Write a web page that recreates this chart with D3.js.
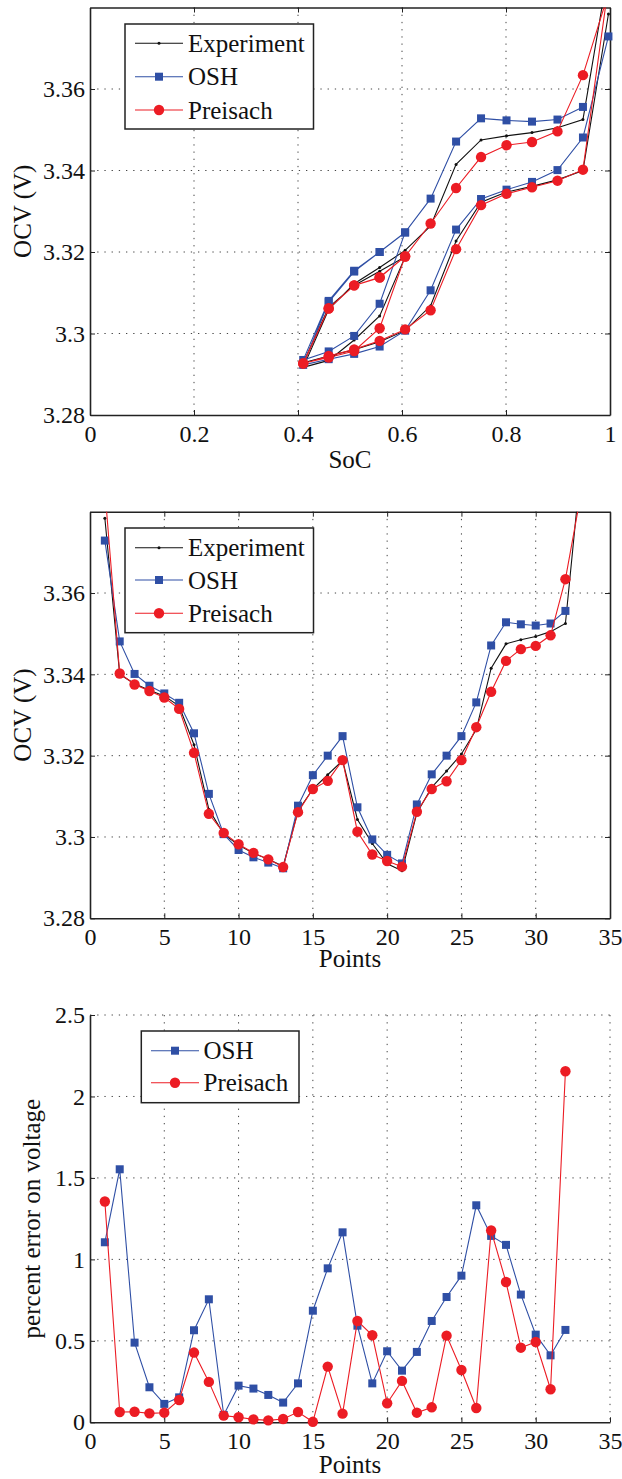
<!DOCTYPE html>
<html>
<head>
<meta charset="utf-8">
<script src="https://cdn.jsdelivr.net/npm/d3@7"></script>
<style>
    body { margin: 0; background: #fff; }
</style>
</head>
<body>
<div id="chart"></div>
<script>
// measurement points (order of the test)
var pointIndex = [1, 2, 3, 4, 5, 6, 7, 8, 9, 10, 11, 12, 13, 14, 15, 16, 17, 18, 19, 20,
    21, 22, 23, 24, 25, 26, 27, 28, 29, 30, 31, 32, 33];
var socValues = [0.997, 0.948, 0.899, 0.850, 0.801, 0.752, 0.704, 0.655, 0.606, 0.557, 0.508,
    0.459, 0.410, 0.459, 0.508, 0.557, 0.606, 0.557, 0.508, 0.459, 0.410, 0.459, 0.508, 0.557,
    0.606, 0.655, 0.704, 0.752, 0.801, 0.850, 0.899, 0.948, 0.997];
var experimentOCV = [3.3784, 3.3400, 3.3377, 3.3361, 3.3347, 3.3322, 3.3227, 3.3068, 3.3007,
    3.2980, 3.2960, 3.2945, 3.2928, 3.3064, 3.3118, 3.3153, 3.3188, 3.3043, 3.2984, 3.2934,
    3.2917, 3.3059, 3.3122, 3.3162, 3.3204, 3.3264, 3.3415, 3.3475, 3.3485, 3.3493, 3.3505,
    3.3525, 3.3895];
var oshOCV = [3.3729, 3.3481, 3.3401, 3.3372, 3.3353, 3.3330, 3.3255, 3.3106, 3.3007, 3.2968,
    3.2950, 3.2937, 3.2923, 3.3077, 3.3152, 3.3200, 3.3248, 3.3073, 3.2994, 3.2956, 3.2935,
    3.3080, 3.3154, 3.3200, 3.3248, 3.3331, 3.3471, 3.3528, 3.3523, 3.3520, 3.3525, 3.3556];
var preisachOCV = [3.3854, 3.3402, 3.3375, 3.3359, 3.3343, 3.3315, 3.3207, 3.3057, 3.3010,
    3.2982, 3.2961, 3.2945, 3.2926, 3.3061, 3.3118, 3.3138, 3.3189, 3.3013, 3.2957, 3.2941,
    3.2927, 3.3062, 3.3118, 3.3137, 3.3189, 3.3270, 3.3357, 3.3433, 3.3462, 3.3470, 3.3496,
    3.3634, 3.3835];
var oshError = [1.105, 1.553, 0.489, 0.215, 0.113, 0.153, 0.565, 0.755, 0.045, 0.225, 0.207,
    0.168, 0.121, 0.239, 0.685, 0.945, 1.166, 0.593, 0.239, 0.436, 0.317, 0.432, 0.622, 0.769,
    0.900, 1.332, 1.144, 1.089, 0.784, 0.538, 0.411, 0.567];
var preisachError = [1.355, 0.063, 0.065, 0.055, 0.059, 0.137, 0.428, 0.248, 0.041, 0.031, 0.018,
    0.012, 0.020, 0.063, 0.003, 0.342, 0.053, 0.622, 0.534, 0.117, 0.254, 0.059, 0.092, 0.532,
    0.321, 0.088, 1.177, 0.861, 0.458, 0.493, 0.203, 2.155];

// tick values and labels
var socTicks = [0, 0.2, 0.4, 0.6, 0.8, 1];
var socTickLabels = ["0", "0.2", "0.4", "0.6", "0.8", "1"];
var pointTicks = [0, 5, 10, 15, 20, 25, 30, 35];
var pointTickLabels = ["0", "5", "10", "15", "20", "25", "30", "35"];
var ocvTicks = [3.28, 3.3, 3.32, 3.34, 3.36];
var ocvTickLabels = ["3.28", "3.3", "3.32", "3.34", "3.36"];
var errorTicks = [0, 0.5, 1, 1.5, 2, 2.5];
var errorTickLabels = ["0", "0.5", "1", "1.5", "2", "2.5"];

var BLUE = "#2f4fa5", RED = "#ec1c24", BLACK = "#111";
var FONT = "'Liberation Serif', 'DejaVu Serif', serif";

var svg = d3.select("#chart").append("svg")
    .attr("width", 622)
    .attr("height", 1479);

function drawMarker(g, type, color, cx, cy) {
    if (type === "square") {
        g.append("rect")
            .attr("x", cx - 4).attr("y", cy - 4)
            .attr("width", 8).attr("height", 8)
            .attr("fill", color);
    } else if (type === "circle") {
        g.append("circle").attr("cx", cx).attr("cy", cy).attr("r", 5.2).attr("fill", color);
    } else {
        g.append("circle").attr("cx", cx).attr("cy", cy).attr("r", 1.5).attr("fill", color);
    }
}

function drawPanel(cfg, id) {
    var left = 90, right = 610;
    var x = d3.scaleLinear().domain(cfg.xDomain).range([left, right]);
    var y = d3.scaleLinear().domain(cfg.yDomain).range([cfg.bottom, cfg.top]);
    var g = svg.append("g");

    // dotted grid
    var gridX = cfg.box ? cfg.xTicks.slice(1, -1) : cfg.xTicks.slice(1);
    var gridY = cfg.yTicks.slice(1);
    g.selectAll(".gx").data(gridX).enter().append("line")
        .attr("x1", function (d) { return x(d); }).attr("x2", function (d) { return x(d); })
        .attr("y1", cfg.top).attr("y2", cfg.bottom)
        .attr("stroke", "#444").attr("stroke-width", 1).attr("stroke-dasharray", "1.3,5.9");
    g.selectAll(".gy").data(gridY).enter().append("line")
        .attr("x1", left).attr("x2", right)
        .attr("y1", function (d) { return y(d); }).attr("y2", function (d) { return y(d); })
        .attr("stroke", "#444").attr("stroke-width", 1).attr("stroke-dasharray", "1.3,5.9");

    // axes with inward ticks
    var xAxis = g.append("g")
        .attr("transform", "translate(0," + cfg.bottom + ")")
        .call(d3.axisBottom(x).tickValues(cfg.xTicks).tickSizeInner(-5).tickSizeOuter(0)
            .tickPadding(10).tickFormat(function (d, i) { return cfg.xLabels[i]; }));
    var yAxis = g.append("g")
        .attr("transform", "translate(" + left + ",0)")
        .call(d3.axisLeft(y).tickValues(cfg.yTicks).tickSizeInner(-5).tickSizeOuter(0)
            .tickPadding(5).tickFormat(function (d, i) { return cfg.yLabels[i]; }));
    [xAxis, yAxis].forEach(function (a) {
        a.attr("font-family", FONT).attr("font-size", 24);
        a.selectAll("text").style("font-family", FONT).style("font-size", "24px").attr("fill", "#111");
        a.select(".domain").attr("stroke", "#222").attr("stroke-width", 1.6);
        a.selectAll(".tick line").attr("stroke", "#222").attr("stroke-width", 1);
    });
    xAxis.selectAll("text").attr("dy", "0.71em");

    if (cfg.box) {
        var tAxis = g.append("g").attr("transform", "translate(0," + cfg.top + ")")
            .call(d3.axisTop(x).tickValues(cfg.xTicks).tickSizeInner(-5).tickSizeOuter(0).tickFormat(""));
        var rAxis = g.append("g").attr("transform", "translate(" + right + ",0)")
            .call(d3.axisRight(y).tickValues(cfg.yTicks).tickSizeInner(-5).tickSizeOuter(0).tickFormat(""));
        [tAxis, rAxis].forEach(function (a) {
            a.select(".domain").attr("stroke", "#222").attr("stroke-width", 1.6);
            a.selectAll(".tick line").attr("stroke", "#222").attr("stroke-width", 1);
        });
    }

    // axis titles
    g.append("text")
        .attr("x", (left + right) / 2).attr("y", cfg.xTitleY)
        .attr("text-anchor", "middle")
        .style("font-family", FONT).style("font-size", "25px").attr("fill", "#111")
        .text(cfg.xTitle);
    g.append("text")
        .attr("transform", "translate(" + cfg.yTitleX + "," + (cfg.top + cfg.bottom) / 2 + ") rotate(-90)")
        .attr("text-anchor", "middle")
        .style("font-family", FONT).style("font-size", "25px").attr("fill", "#111")
        .text(cfg.yTitle);

    // clip lines to the plot area
    svg.append("clipPath").attr("id", id)
        .append("rect")
        .attr("x", left).attr("y", cfg.top)
        .attr("width", right - left).attr("height", cfg.bottom - cfg.top);

    cfg.series.forEach(function (s) {
        var data = d3.zip(s.x, s.y);
        var line = d3.line()
            .x(function (d) { return x(d[0]); })
            .y(function (d) { return y(d[1]); });
        g.append("path")
            .datum(data)
            .attr("clip-path", "url(#" + id + ")")
            .attr("fill", "none")
            .attr("stroke", s.color)
            .attr("stroke-width", 1.1)
            .attr("d", line);
        var mg = g.append("g");
        data.forEach(function (d) {
            if (d[1] > cfg.yDomain[1] || d[1] < cfg.yDomain[0]) return;
            drawMarker(mg, s.marker, s.color, x(d[0]), y(d[1]));
        });
    });

    // legend
    var L = cfg.legend;
    g.append("rect")
        .attr("x", L.x0).attr("y", L.y0)
        .attr("width", L.x1 - L.x0).attr("height", L.y1 - L.y0)
        .attr("fill", "#fff").attr("stroke", "#222").attr("stroke-width", 1.5);
    cfg.series.forEach(function (s, i) {
        var ry = L.rows[i];
        g.append("line")
            .attr("x1", L.lineX0).attr("x2", L.lineX1)
            .attr("y1", ry).attr("y2", ry)
            .attr("stroke", s.color).attr("stroke-width", 1.1);
        drawMarker(g, s.marker, s.color, (L.lineX0 + L.lineX1) / 2, ry);
        g.append("text")
            .attr("x", L.textX).attr("y", ry + 8.5)
            .style("font-family", FONT).style("font-size", "25px").attr("fill", "#111")
            .text(s.name);
    });
}

// panel 1: OCV vs SoC
drawPanel({
    top: 7.5, bottom: 415,
    xDomain: [0, 1], yDomain: [3.28, 3.38],
    xTicks: socTicks, xLabels: socTickLabels,
    yTicks: ocvTicks, yLabels: ocvTickLabels,
    box: true,
    xTitle: "SoC", xTitleY: 468,
    yTitle: "OCV (V)", yTitleX: 31,
    series: [
        { name: "Experiment", x: socValues, y: experimentOCV, color: BLACK, marker: "dot" },
        { name: "OSH", x: socValues.slice(0, oshOCV.length), y: oshOCV, color: BLUE, marker: "square" },
        { name: "Preisach", x: socValues, y: preisachOCV, color: RED, marker: "circle" }
    ],
    legend: { x0: 125, x1: 313.5, y0: 24, y1: 129, rows: [43.3, 76.7, 110],
        lineX0: 135, lineX1: 183, textX: 188 }
}, "clip1");

// panel 2: OCV vs points
drawPanel({
    top: 511.7, bottom: 918.3,
    xDomain: [0, 35], yDomain: [3.28, 3.38],
    xTicks: pointTicks, xLabels: pointTickLabels,
    yTicks: ocvTicks, yLabels: ocvTickLabels,
    box: true,
    xTitle: "Points", xTitleY: 967,
    yTitle: "OCV (V)", yTitleX: 31,
    series: [
        { name: "Experiment", x: pointIndex, y: experimentOCV, color: BLACK, marker: "dot" },
        { name: "OSH", x: pointIndex.slice(0, oshOCV.length), y: oshOCV, color: BLUE, marker: "square" },
        { name: "Preisach", x: pointIndex, y: preisachOCV, color: RED, marker: "circle" }
    ],
    legend: { x0: 125, x1: 313.5, y0: 528, y1: 632.7, rows: [547.7, 580, 613.3],
        lineX0: 135, lineX1: 183, textX: 188 }
}, "clip2");

// panel 3: percent error
drawPanel({
    top: 1015, bottom: 1422.3,
    xDomain: [0, 35], yDomain: [0, 2.5],
    xTicks: pointTicks, xLabels: pointTickLabels,
    yTicks: errorTicks, yLabels: errorTickLabels,
    box: false,
    xTitle: "Points", xTitleY: 1473,
    yTitle: "percent error on voltage", yTitleX: 40,
    series: [
        { name: "OSH", x: pointIndex.slice(0, oshError.length), y: oshError, color: BLUE, marker: "square" },
        { name: "Preisach", x: pointIndex.slice(0, preisachError.length), y: preisachError, color: RED, marker: "circle" }
    ],
    legend: { x0: 141.3, x1: 299, y0: 1031, y1: 1102.7, rows: [1050.7, 1082.7],
        lineX0: 151, lineX1: 199, textX: 203.5 }
}, "clip3");
</script>
</body>
</html>
